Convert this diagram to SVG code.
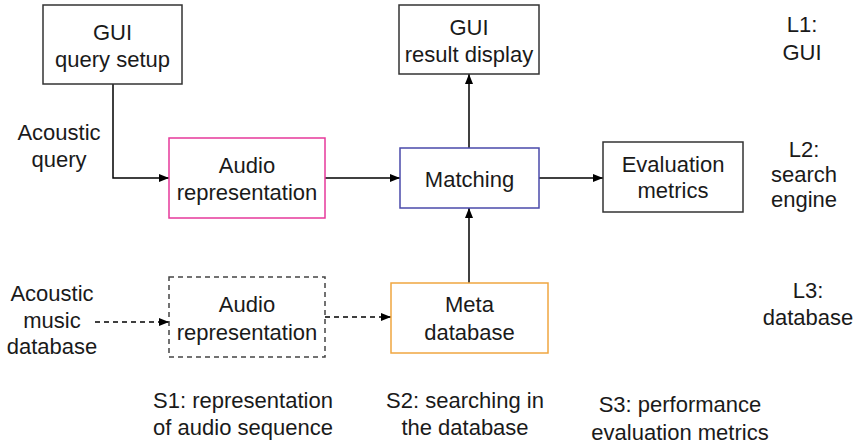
<svg xmlns="http://www.w3.org/2000/svg" width="856" height="447" viewBox="0 0 856 447">
<defs>
<marker id="ah" markerWidth="10" markerHeight="8" refX="10" refY="4" orient="auto" markerUnits="userSpaceOnUse">
<path d="M0,0 L10,4 L0,8 Z" fill="#000"/>
</marker>
<style>
text{font-family:"Liberation Sans",Arial,sans-serif;font-size:22px;fill:#1a1a1a;text-anchor:middle}
.box{fill:#fff;stroke:#333;stroke-width:1.5}
.c{fill:none;stroke:#000;stroke-width:1.5;marker-end:url(#ah)}
.d{stroke-dasharray:5,4}
</style>
</defs>
<rect width="856" height="447" fill="#fff"/>
<g id="connectors">
<path class="c" d="M113,84 V178 H169"/>
<path class="c" d="M325,178 H400"/>
<path class="c" d="M469,148 V74"/>
<path class="c" d="M539,178 H603"/>
<path class="c" d="M469,283 V208"/>
<path class="c d" d="M95,322 H169"/>
<path class="c d" d="M325,317 H391"/>
</g>
<g id="gui-query-setup">
<rect class="box" x="43" y="5" width="139" height="79"/>
<text x="112.5" y="40">GUI</text>
<text x="112.5" y="67">query setup</text>
</g>
<g id="gui-result-display">
<rect class="box" x="399" y="5" width="140" height="69"/>
<text x="469" y="35">GUI</text>
<text x="469" y="62">result display</text>
</g>
<g id="audio-representation">
<rect class="box" x="169" y="138" width="156" height="80" style="stroke:#e6399b"/>
<text x="247" y="173">Audio</text>
<text x="247" y="200">representation</text>
</g>
<g id="matching">
<rect class="box" x="400" y="148" width="139" height="60" style="stroke:#4a4aaa"/>
<text x="469.5" y="187">Matching</text>
</g>
<g id="evaluation-metrics">
<rect class="box" x="603" y="142" width="140" height="70"/>
<text x="673" y="172">Evaluation</text>
<text x="673" y="198">metrics</text>
</g>
<g id="audio-representation-db">
<rect class="box d" x="169" y="277" width="156" height="80" style="stroke:#444"/>
<text x="247" y="312">Audio</text>
<text x="247" y="340">representation</text>
</g>
<g id="meta-database">
<rect class="box" x="391" y="283" width="157" height="70" style="stroke:#f0a640"/>
<text x="469.5" y="312">Meta</text>
<text x="469.5" y="340">database</text>
</g>
<g id="labels">
<text x="59" y="140">Acoustic</text>
<text x="59" y="167">query</text>
<text x="52" y="301">Acoustic</text>
<text x="52" y="328">music</text>
<text x="52" y="354">database</text>
<text x="802" y="32">L1:</text>
<text x="802" y="60">GUI</text>
<text x="804" y="157">L2:</text>
<text x="804" y="182">search</text>
<text x="804" y="207">engine</text>
<text x="808" y="298">L3:</text>
<text x="808" y="325">database</text>
<text x="243" y="408">S1: representation</text>
<text x="243" y="435">of audio sequence</text>
<text x="465" y="408">S2: searching in</text>
<text x="465" y="435">the database</text>
<text x="680" y="412">S3: performance</text>
<text x="680" y="440">evaluation metrics</text>
</g>
</svg>
